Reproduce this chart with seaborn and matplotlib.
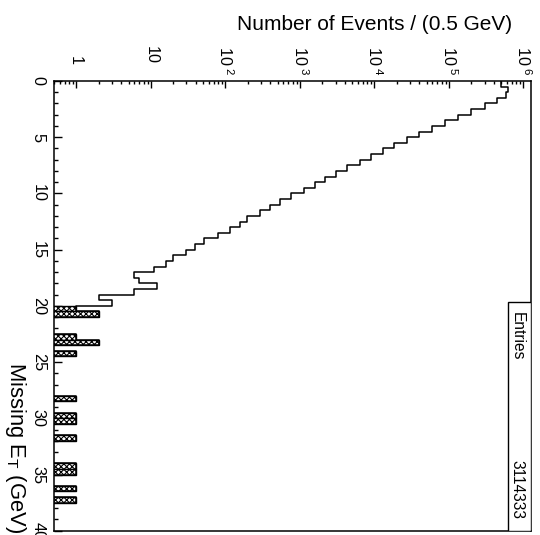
import numpy as np
import pandas as pd
import matplotlib
matplotlib.use('Agg')
import matplotlib.pyplot as plt
import seaborn as sns
from matplotlib.ticker import LogLocator, MultipleLocator, NullFormatter

# events per 0.5 GeV bin, Missing E_T from 0 to 20 GeV
main_counts = [4.95e5, 6.25e5, 5.78e5, 4.45e5, 3.07e5, 2.0e5, 1.32e5, 8.75e4,
               5.85e4, 3.95e4, 2.70e4, 1.82e4, 1.30e4, 9.06e3, 6.3e3, 4.31e3,
               3.07e3, 2.2e3, 1.57e3, 1.12e3, 762, 535, 393, 288,
               195, 155, 116, 80, 52, 39, 30, 20,
               16, 11, 6, 7, 12, 6, 2, 3]
# tail, 20 to 40 GeV (hatched)
tail_counts = [1, 2, 0, 0, 0, 1, 2, 0, 1, 0,
               0, 0, 0, 0, 0, 0, 1, 0, 0, 1,
               1, 0, 0, 1, 0, 0, 0, 0, 1, 1,
               0, 0, 1, 0, 1, 0, 0, 0, 0, 0]
x_tick_labels = ['  1', '10', r'$\mathregular{10^{\ 2}}$', r'$\mathregular{10^{\ 3}}$',
                 r'$\mathregular{10^{\ 4}}$', r'$\mathregular{10^{\ 5}}$',
                 r'$\mathregular{10^{\ 6}}$']
y_ticks = [0, 5, 10, 15, 20, 25, 30, 35, 40]
entries = 3114333

centers = np.arange(80) * 0.5 + 0.25
df = pd.DataFrame({'met': centers, 'events': main_counts + tail_counts})
tail = pd.DataFrame({'met': centers[40:], 'events': tail_counts})

sns.set_theme(style='white')
plt.rcParams['font.family'] = ['Liberation Sans', 'DejaVu Sans']
plt.rcParams['mathtext.fontset'] = 'custom'
plt.rcParams['mathtext.rm'] = 'Liberation Sans'
plt.rcParams['mathtext.it'] = 'Liberation Sans:italic'
plt.rcParams['hatch.linewidth'] = 0.8
plt.rcParams['text.color'] = 'black'
plt.rcParams['xtick.color'] = 'black'
plt.rcParams['ytick.color'] = 'black'

fig = plt.figure(figsize=(5.4, 5.35), dpi=100)
ax = fig.add_axes([0.1, 0.008, 0.8828, 0.8406])

sns.histplot(data=tail, y='met', weights='events', binwidth=0.5, binrange=(20, 40),
             element='bars', fill=True, facecolor='white', edgecolor='black',
             hatch='xxxxxx', linewidth=1.0, ax=ax)
sns.histplot(data=df, y='met', weights='events', binwidth=0.5, binrange=(0, 40),
             element='step', fill=False, color='black', linewidth=1.1, ax=ax)

ax.set_xscale('log')
ax.set_xlim(0.5, 1.25e6)
ax.set_ylim(40, 0)
ax.set_xlabel('')
ax.set_ylabel('')

ax.xaxis.tick_top()
ax.set_xticks([1, 10, 1e2, 1e3, 1e4, 1e5, 1e6])
ax.set_xticklabels(x_tick_labels)
ax.xaxis.set_minor_locator(LogLocator(base=10, subs=np.arange(2, 10)))
ax.xaxis.set_minor_formatter(NullFormatter())
ax.set_yticks(y_ticks)
ax.set_yticklabels([str(t) for t in y_ticks])
ax.yaxis.set_minor_locator(MultipleLocator(1))

ax.tick_params(axis='x', which='major', direction='in', length=5, width=1,
               labelsize=11.7, pad=25.5, labelrotation=-90,
               top=True, bottom=False)
ax.tick_params(axis='x', which='minor', direction='in', length=2.5, width=1,
               top=True, bottom=False)
ax.tick_params(axis='y', which='major', direction='in', length=5.8, width=1,
               labelsize=11.7, pad=6, labelrotation=-90,
               left=True, right=False)
ax.tick_params(axis='y', which='minor', direction='in', length=2.9, width=1,
               left=True, right=False)
for lab in ax.get_xticklabels():
    lab.set_va('top')
for lab in ax.get_yticklabels():
    lab.set_va('center')

for s in ax.spines.values():
    s.set_color('black')
    s.set_linewidth(1.1)

# stats box
ax.add_patch(plt.Rectangle((0.952, 0.0), 0.048, 0.509, transform=ax.transAxes,
                           facecolor='white', edgecolor='black', linewidth=1.0,
                           zorder=5))
ax.text(0.971, 0.486, 'Entries', transform=ax.transAxes, rotation=-90,
        ha='center', va='top', fontsize=11.2, zorder=6)
ax.text(0.971, 0.026, str(entries), transform=ax.transAxes, rotation=-90,
        ha='center', va='bottom', fontsize=11.2, zorder=6)

fig.text(0.948, 0.944, 'Number of Events / (0.5 GeV)', ha='right',
         va='baseline', fontsize=15)
fig.text(0.028, 0.004, r'Missing E$_{\mathregular{T}}$ (GeV)', rotation=-90,
         ha='center', va='bottom', fontsize=15.8)

fig.savefig('out.png', dpi=100)
